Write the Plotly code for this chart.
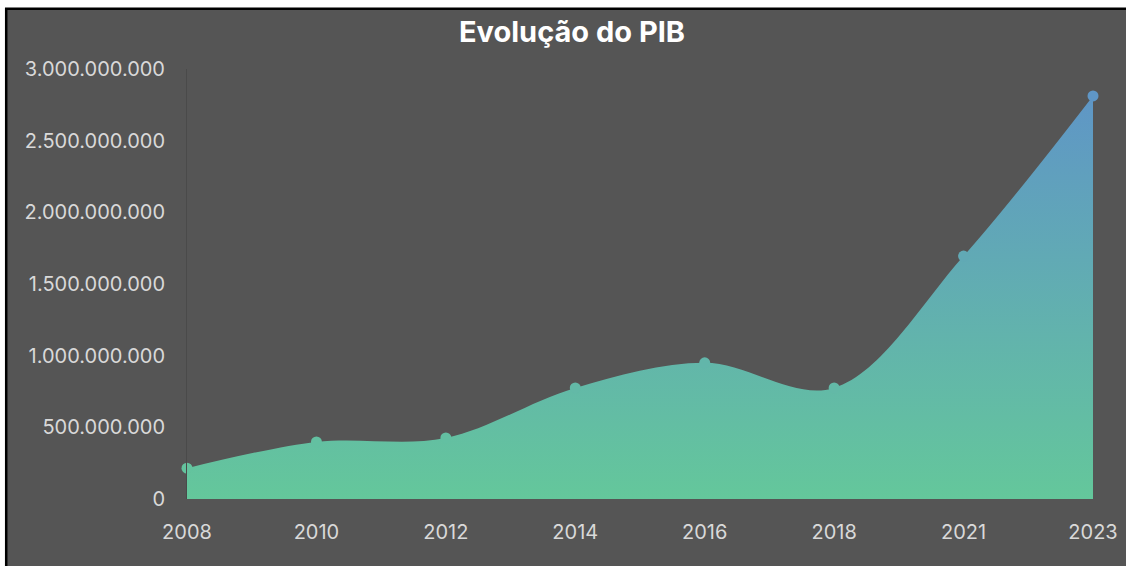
import plotly.graph_objects as go

# PIB por ano
anos = ["2008", "2010", "2012", "2014", "2016", "2018", "2021", "2023"]
pib = [215_000_000, 398_000_000, 426_000_000, 775_000_000,
       950_000_000, 775_000_000, 1_695_000_000, 2_812_000_000]
y_ticks = [0, 500_000_000, 1_000_000_000, 1_500_000_000,
           2_000_000_000, 2_500_000_000, 3_000_000_000]

W, H = 1126, 566
L, R, T, B = 187, 33, 69, 67
pw, ph = W - L - R, H - T - B


def px_x(p):
    return (p - L) / pw


def px_y(p):
    return (H - B - p) / ph


green = "#64c79b"
blue = "#5f96c6"
scale = [[0, green], [1, blue]]

fig = go.Figure()
fig.add_trace(go.Scatter(
    x=anos, y=pib,
    mode="lines+markers",
    line=dict(shape="spline", smoothing=1, width=0, color=green),
    fill="tozeroy",
    fillgradient=dict(type="vertical", colorscale=scale, start=0, stop=max(pib)),
    marker=dict(size=11, color=pib, colorscale=scale, cmin=0, cmax=max(pib)),
    cliponaxis=False,
    hoverinfo="skip",
    showlegend=False,
))

fig.update_layout(
    width=W, height=H,
    margin=dict(l=L, r=R, t=T, b=B, autoexpand=False),
    paper_bgcolor="white",
    plot_bgcolor="rgba(0,0,0,0)",
    separators=",.",
    font=dict(family="Inter", color="#d9d9d9", size=20),
    title=dict(
        text="<b>Evolução do PIB</b>",
        x=572 / W, xanchor="center", xref="container",
        y=1 - 32 / H, yanchor="middle",
        font=dict(size=29, color="white", family="Inter"),
    ),
    xaxis=dict(
        type="category", range=[0, len(anos) - 1], automargin=False,
        showgrid=False, zeroline=False, showline=False,
        ticklabelstandoff=19, tickfont=dict(size=20),
    ),
    yaxis=dict(
        range=[0, 3_000_000_000], tickvals=y_ticks, tickformat=",d",
        automargin=False,
        showgrid=False, zeroline=False,
        showline=True, linecolor="#4a4a4a", linewidth=1,
        ticklabelstandoff=17, tickfont=dict(size=20),
    ),
    shapes=[
        dict(type="rect", xref="paper", yref="paper", layer="below",
             x0=px_x(6.2), x1=px_x(W + 10), y0=px_y(H + 10), y1=px_y(8.7),
             fillcolor="#555555", line=dict(color="black", width=2.5)),
    ],
)

fig.write_html("out.html", config={"displayModeBar": False},
               post_script="document.body.style.margin='0px';")
